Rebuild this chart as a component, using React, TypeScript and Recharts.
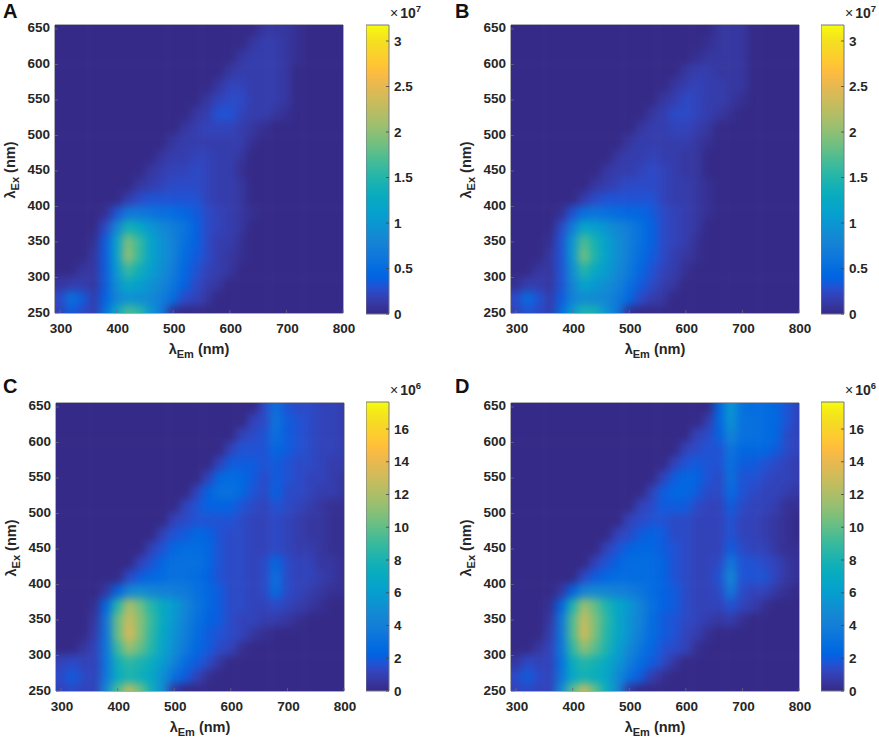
import React from "react";
import {
  ScatterChart, Scatter, XAxis, YAxis, ReferenceArea, BarChart, Bar, Label,
} from "recharts";

const emValues = [300,320,340,360,380,400,420,440,460,480,500,520,540,560,580,600,620,640,660,680,700,720,740,760,780,800];
const exValues = [650,630,610,590,570,550,530,510,490,470,450,430,410,390,370,350,330,310,290,270,250];
const emTicks = [300,400,500,600,700,800];
const exTicks = [250,300,350,400,450,500,550,600,650];
const barTicks7 = [0,0.5,1,1.5,2,2.5,3];
const barTicks6 = [0,2,4,6,8,10,12,14,16];

// Intensity in units of 1e6; rows run from ex 650 down to ex 250, trailing zeros omitted.
const panelA = [
[0,0,0,0,0,0,0,0,0,0,0,0,0,0,0,0,0,0,1,1.2,1,.3],
[0,0,0,0,0,0,0,0,0,0,0,0,0,0,0,0,0,1,1.3,1.3,1.2,.3],
[0,0,0,0,0,0,0,0,0,0,0,0,0,0,0,0,1,1.3,1.4,1.4,1.2,.3],
[0,0,0,0,0,0,0,0,0,0,0,0,0,0,0,1.2,1.5,1.5,1.4,1.4,1.2,.2],
[0,0,0,0,0,0,0,0,0,0,0,0,0,0,1.1,1.8,1.9,1.7,1.4,1.4,1.1],
[0,0,0,0,0,0,0,0,0,0,0,0,0,1.1,2,2.6,2.3,1.7,1.4,1.4,.9],
[0,0,0,0,0,0,0,0,0,0,0,0,1,1.7,3,2.8,2,1.5,1.3,1,.3],
[0,0,0,0,0,0,0,0,0,0,0,1,1.5,1.8,2,2,1.7,1.2,.3],
[0,0,0,0,0,0,0,0,0,0,1,1.4,1.6,1.6,1.6,1.5,1.3,.5],
[0,0,0,0,0,0,0,0,0,1,1.4,1.7,1.9,1.8,1.5,1.3,.9],
[0,0,0,0,0,0,0,0,1,1.4,1.8,2.2,2.3,1.9,1.5,1.3,.7],
[0,0,0,0,0,0,0,1,1.5,1.9,2.3,2.6,2.5,2,1.5,1.3,.8],
[0,0,0,0,0,0,1.6,2.5,3,3.2,3.2,3.2,2.9,2.2,1.6,1.4,1],
[0,0,0,0,.6,3,6.5,6.5,6,5.5,5,4.5,3.5,2.4,1.8,1.5,1.2,.3],
[0,0,0,.2,2.5,8,14,12.5,10,8.5,7.2,5.8,4.2,2.6,1.8,1.5,1.1],
[0,0,0,.6,3.5,11,19,16,11.5,9.5,7.5,5.5,4,2.5,1.7,1.4,.7],
[0,0,0,.8,3.5,11,20,16,11.5,9.5,7.5,5.2,3.5,2.3,1.6,1.2,.3],
[0,0,.8,1,3.5,10,16,13.5,11,9,7,4.5,3,2,1.4,.8],
[.8,1.5,1.4,1.2,3.5,9,12.5,11,9.5,8,6,3.8,2.4,1.7,1,.2],
[2.5,5.5,3.5,1.4,4,8,9.5,9,8.5,7,4.8,2.7,1.8,.8],
[2,3.5,2.5,1.4,5.5,12,17,15.5,10,6.5,.5],
];

const panelB = [
[0,0,0,0,0,0,0,0,0,0,0,0,0,0,0,0,0,0,.8,1,.9],
[0,0,0,0,0,0,0,0,0,0,0,0,0,0,0,0,0,.6,1,1.1,1,.2],
[0,0,0,0,0,0,0,0,0,0,0,0,0,0,0,0,.7,1.1,1.2,1.2,1,.2],
[0,0,0,0,0,0,0,0,0,0,0,0,0,0,0,1,1.4,1.4,1.2,1.2,1],
[0,0,0,0,0,0,0,0,0,0,0,0,0,0,1,1.6,1.8,1.7,1.3,1.2,.8],
[0,0,0,0,0,0,0,0,0,0,0,0,0,1,1.7,2.3,2.2,1.7,1.3,1.1,.3],
[0,0,0,0,0,0,0,0,0,0,0,0,.9,1.5,2.7,2.7,2,1.5,1.1,.7],
[0,0,0,0,0,0,0,0,0,0,0,.9,1.4,1.6,1.9,1.9,1.6,1.1,.2],
[0,0,0,0,0,0,0,0,0,0,.9,1.3,1.5,1.5,1.5,1.4,1.2,.5],
[0,0,0,0,0,0,0,0,0,.9,1.3,1.6,1.9,1.7,1.4,1.2,.9,.2],
[0,0,0,0,0,0,0,0,.9,1.3,1.7,2.2,2.4,1.9,1.4,1.2,.9,.2],
[0,0,0,0,0,0,0,.9,1.4,1.8,2.3,2.6,2.5,2,1.5,1.3,1,.3],
[0,0,0,0,0,0,1.5,2.3,2.9,3.1,3.1,3.1,2.9,2.2,1.6,1.4,1.1,.4],
[0,0,0,0,.6,2.8,5.5,5.8,5.5,5.2,4.7,4.3,3.5,2.5,1.9,1.5,1.2,.4],
[0,0,0,.2,2.4,7,12,11,9.5,8,7,5.6,4.2,2.7,1.9,1.5,1.1,.2],
[0,0,0,.6,3.2,10,17,14,11,9,7.3,5.4,4,2.6,1.8,1.4,.6],
[0,0,0,.8,3.2,10,18.5,14.5,11,9,7.2,5,3.5,2.3,1.7,1.2,.3],
[0,0,.8,1,3.2,9,15,12.5,10.5,8.5,6.6,4.4,3,2,1.4,.7],
[.6,1.5,1.3,1.2,3.2,8,11.5,10.2,9,7.6,5.6,3.6,2.4,1.7,.9,.2],
[2.4,5.2,3.2,1.4,3.6,7.5,9,8.5,8,6.7,4.6,2.6,1.7,.8],
[1.8,3.2,2.3,1.4,5,10.5,14.5,14,9.5,6,.5],
];

const panelC = [
[0,0,0,0,0,0,0,0,0,0,0,0,0,0,0,0,0,0,1.3,3.2,1.8,1.5,1.3,1.2,1,.8],
[0,0,0,0,0,0,0,0,0,0,0,0,0,0,0,0,0,1,1.5,3.3,2,1.6,1.4,1.2,1,.9],
[0,0,0,0,0,0,0,0,0,0,0,0,0,0,0,0,1,1.4,1.6,3.2,2.1,1.6,1.4,1.2,1,.9],
[0,0,0,0,0,0,0,0,0,0,0,0,0,0,0,1.1,1.6,1.7,1.7,2.6,1.9,1.6,1.4,1.2,1,.8],
[0,0,0,0,0,0,0,0,0,0,0,0,0,0,1.1,2,2,1.9,1.6,2.1,1.7,1.5,1.3,1.1,.9,.8],
[0,0,0,0,0,0,0,0,0,0,0,0,0,1.1,2.4,2.7,2.6,2,1.5,2.1,1.6,1.4,1.2,1.1,.9,.7],
[0,0,0,0,0,0,0,0,0,0,0,0,1,2.2,3,3,2.5,1.7,1.4,2.2,1.5,1.3,1.1,.9,.8,.5],
[0,0,0,0,0,0,0,0,0,0,0,1,1.7,2.2,2.3,2.2,1.8,1.4,1.2,1.7,1.3,1.1,.9,.7,.4,.2],
[0,0,0,0,0,0,0,0,0,0,1,1.5,1.8,1.8,1.7,1.6,1.4,1.2,1.1,1.4,1.1,.9,.7,.5,.3,.2],
[0,0,0,0,0,0,0,0,0,1,1.6,2.1,2.4,2.2,1.7,1.5,1.3,1.2,1.1,1.4,1.1,.9,.7,.5,.3,.2],
[0,0,0,0,0,0,0,0,1.1,1.7,2.4,2.8,2.9,2.4,1.8,1.5,1.3,1.1,1.1,1.5,1.1,.9,.8,.6,.4,.3],
[0,0,0,0,0,0,0,1.1,1.8,2.5,3,3.2,3,2.4,1.8,1.5,1.3,1.1,1.3,2.6,1.4,1.1,1,.7,.5,.3],
[0,0,0,0,0,0,1.3,2,2.6,2.9,3,3,2.8,2.3,1.8,1.5,1.3,1.1,1.5,3.2,1.5,1.2,1,.8,.5,.3],
[0,0,0,0,.5,2.2,4.5,5,4.5,4.2,4,3.6,3,2.4,1.9,1.5,1.3,1.1,1.3,2.8,1.3,1.1,.9,.7,.3,.2],
[0,0,0,.2,2.5,8.5,12,10.5,8.5,7,5.8,4.4,3.3,2.4,1.9,1.5,1.3,1.1,1.1,1.5,1.1,.9,.6,.3],
[0,0,0,.6,3.5,10,13,11,9,7,5.6,4.2,3,2.2,1.9,1.5,1.2,1,.9,.9,.6,.3],
[0,0,0,.8,3.5,10,13.5,11,8.8,6.8,5.4,4,2.8,2.1,1.7,1.3,1,.7,.3],
[0,0,.6,1,3.5,9,11.5,10,8.5,6.5,5,3.6,2.5,1.9,1.5,1.1,.3],
[1,1.4,1.1,1,3.4,7.5,8.8,8.2,7.2,5.8,4.2,2.9,2.1,1.5,.6],
[1.4,2.1,1.4,1,3.6,7,8,7.6,6.8,5,3.2,2,1,.2],
[1,1.4,1,1,4.8,9.5,12.5,10.5,7.5,5,.5],
];

const panelD = [
[0,0,0,0,0,0,0,0,0,0,0,0,0,0,0,0,0,0,2.6,5.6,3,2.8,2.8,2.6,1.6,1.2],
[0,0,0,0,0,0,0,0,0,0,0,0,0,0,0,0,0,.8,2.6,5.4,3.1,3,2.9,2.6,1.6,1.2],
[0,0,0,0,0,0,0,0,0,0,0,0,0,0,0,0,1,1.3,2.2,4.6,3,3,2.9,2.5,1.5,1.1],
[0,0,0,0,0,0,0,0,0,0,0,0,0,0,0,1,1.5,1.6,1.8,3.4,2.4,2.4,2.4,2,1.3,1],
[0,0,0,0,0,0,0,0,0,0,0,0,0,0,1,1.7,1.9,1.8,1.6,3,2,1.9,1.8,1.4,1.1,.9],
[0,0,0,0,0,0,0,0,0,0,0,0,0,1,2,2.5,2.3,1.8,1.4,3.2,1.8,1.6,1.4,1.2,1,.8],
[0,0,0,0,0,0,0,0,0,0,0,0,1,1.9,2.6,2.6,2.1,1.5,1.3,2.9,1.6,1.4,1.2,1,.9,.6],
[0,0,0,0,0,0,0,0,0,0,0,1,1.5,1.9,2,1.9,1.5,1.2,1.1,2,1.3,1.1,1,.8,.3,.2],
[0,0,0,0,0,0,0,0,0,0,1,1.4,1.6,1.6,1.5,1.4,1.2,1,1,1.6,1.1,1,.8,.6,.2,.1],
[0,0,0,0,0,0,0,0,0,1,1.5,2,2.2,1.9,1.5,1.3,1.1,1,1,1.7,1.1,1,.8,.6,.2,.1],
[0,0,0,0,0,0,0,0,1,1.6,2.2,2.6,2.6,2.1,1.6,1.3,1.1,1,1,2,1.3,1.2,1,.7,.3,.2],
[0,0,0,0,0,0,0,1.1,1.7,2.3,2.7,2.9,2.7,2.2,1.6,1.3,1.1,1,1.4,3.6,1.6,1.6,1.5,1,.5,.3],
[0,0,0,0,0,0,1.3,1.9,2.5,2.8,2.9,2.9,2.7,2.2,1.7,1.4,1.2,1,1.8,4.8,1.8,1.7,1.6,1.1,.6,.2],
[0,0,0,0,.5,2.2,4.4,4.8,4.4,4.1,3.9,3.5,2.9,2.3,1.9,1.5,1.2,1,1.5,3.6,1.4,1.2,1,.6,.2],
[0,0,0,.2,2.3,8,11.5,10,8.2,6.8,5.6,4.3,3.2,2.3,1.9,1.4,1.2,1,1,1.8,1,.8,.4],
[0,0,0,.6,3.3,9.5,12.8,10.6,8.8,6.8,5.4,4.1,2.9,2.1,1.8,1.4,1.1,.9,.7,.9,.4],
[0,0,0,.8,3.3,9.5,13.2,10.6,8.5,6.6,5.2,3.9,2.7,2,1.6,1.2,.9,.4],
[0,0,.5,1,3.3,8.6,11.2,9.7,8.2,6.3,4.8,3.4,2.4,1.8,1.4,1,.3],
[.7,1.3,1,1,3.2,7.2,8.5,7.9,7,5.6,4,2.8,2,1.4,.6],
[1.3,1.9,1.3,1,3.4,6.8,7.8,7.4,6.6,4.8,3.1,1.9,.9,.2],
[1,1.3,1,1,4.8,9.8,12.8,10.2,7.3,4.8,.5],
];

const parula = [
[53,42,135],[54,48,147],[54,55,160],[53,61,173],[50,67,186],[44,74,199],[32,83,212],[15,92,221],[3,99,225],[2,104,225],[4,109,224],[8,113,222],[13,117,220],[16,121,218],[18,125,216],[20,129,214],[20,133,212],[19,137,211],[16,142,210],[12,147,210],[9,152,209],[7,156,207],[6,160,205],[6,164,202],[6,167,198],[7,169,194],[10,172,190],[15,174,185],[21,177,180],[29,179,175],[37,181,169],[46,183,164],[56,185,158],[66,187,152],[77,188,146],[89,189,140],[101,190,134],[113,191,128],[124,191,123],[135,191,119],[146,191,115],[156,191,111],[165,190,107],[174,190,103],[183,189,100],[192,188,96],[200,188,93],[209,187,89],[217,186,86],[225,185,82],[233,185,78],[241,185,74],[248,187,68],[253,190,61],[255,195,55],[254,200,50],[252,206,46],[250,211,42],[247,216,38],[245,222,33],[245,228,29],[245,235,24],[246,243,19],[249,251,14],
];

const FONT = "'Liberation Sans', Arial, sans-serif";
const INK = "#262626";
const FRAME = "#5b5b6b";
const PLOT = 288;
const EM_DOMAIN: [number, number] = [291, 800];
const EX_DOMAIN: [number, number] = [250, 655.6];
const BLEED = 14;

function colourOf(v: number, max: number) {
  const t = Math.max(0, Math.min(1, v / max));
  const c = parula[Math.round(t * (parula.length - 1))];
  return `rgb(${c[0]},${c[1]},${c[2]})`;
}

function cellsOf(rows: number[][]) {
  const out: { em: number; ex: number; v: number }[] = [];
  exValues.forEach((ex, i) => {
    emValues.forEach((em, j) => {
      out.push({ em, ex, v: rows[i][j] ?? 0 });
    });
  });
  return out;
}

const cellW = (PLOT / (EM_DOMAIN[1] - EM_DOMAIN[0])) * 20;
const cellH = (PLOT / (EX_DOMAIN[1] - EX_DOMAIN[0])) * 20;

function CellShape(props: any) {
  const { cx, cy, payload, colourMax } = props;
  const { em, ex, v } = payload;
  const left = em === emValues[0] ? BLEED : 0;
  const right = em === emValues[emValues.length - 1] ? BLEED : 0;
  const top = ex === exValues[0] ? BLEED : 0;
  const bottom = ex === exValues[exValues.length - 1] ? BLEED : 0;
  return (
    <rect
      x={cx - cellW / 2 - left - 0.3}
      y={cy - cellH / 2 - top - 0.3}
      width={cellW + left + right + 0.6}
      height={cellH + top + bottom + 0.6}
      fill={colourOf(v, colourMax)}
    />
  );
}

function XTick({ x, payload }: any) {
  return (
    <g>
      <line x1={x} x2={x} y1={313} y2={310} stroke="#6a6a80" strokeWidth={0.8} />
      <text x={x + 1} y={333} textAnchor="middle" fontFamily={FONT} fontSize={13.5} fontWeight={700} fill={INK}>
        {payload.value}
      </text>
    </g>
  );
}

function YTick({ y, payload }: any) {
  return (
    <g>
      <line x1={55} x2={58} y1={y} y2={y} stroke="#6a6a80" strokeWidth={0.8} />
      <text x={50} y={y + 3.5} textAnchor="end" fontFamily={FONT} fontSize={13.5} fontWeight={700} fill={INK}>
        {payload.value}
      </text>
    </g>
  );
}

function EmLabel() {
  return (
    <text x={199} y={354} textAnchor="middle" fontFamily={FONT} fontSize={14.5} fontWeight={700} fill={INK}>
      λ<tspan fontSize={11} dy={4}>Em</tspan><tspan dy={-4}> (nm)</tspan>
    </text>
  );
}

function ExLabel() {
  return (
    <text transform="translate(15,170) rotate(-90)" textAnchor="middle" fontFamily={FONT} fontSize={14.5} fontWeight={700} fill={INK}>
      λ<tspan fontSize={11} dy={4}>Ex</tspan><tspan dy={-4}> (nm)</tspan>
    </text>
  );
}

function Heatmap({ left, top, rows, colourMax }: { left: number; top: number; rows: number[][]; colourMax: number }) {
  const cells = cellsOf(rows);
  return (
    <div className="heat" style={{ position: "absolute", left, top }}>
      <ScatterChart width={360} height={368} margin={{ top: 25, right: 17, bottom: 0, left: 0 }}>
        <XAxis type="number" dataKey="em" domain={EM_DOMAIN} ticks={emTicks} height={55} interval={0}
          tick={<XTick />} tickLine={false} axisLine={false} tickSize={0}>
          <Label content={<EmLabel />} />
        </XAxis>
        <YAxis type="number" dataKey="ex" domain={EX_DOMAIN} ticks={exTicks} width={55} interval={0}
          tick={<YTick />} tickLine={false} axisLine={false} tickSize={0}>
          <Label content={<ExLabel />} />
        </YAxis>
        <Scatter data={cells} isAnimationActive={false}
          shape={(p: any) => <CellShape {...p} colourMax={colourMax} />} />
        <ReferenceArea x1={EM_DOMAIN[0]} x2={EM_DOMAIN[1]} y1={EX_DOMAIN[0]} y2={EX_DOMAIN[1]}
          fill="none" stroke={FRAME} strokeWidth={1} fillOpacity={0} />
      </ScatterChart>
    </div>
  );
}

function BarTick({ y, payload }: any) {
  return (
    <g>
      <line x1={20} x2={23} y1={y} y2={y} stroke="#444" strokeWidth={0.8} />
      <text x={28} y={y + 4.5} fontFamily={FONT} fontSize={13.5} fontWeight={700} fill={INK}>
        {payload.value}
      </text>
    </g>
  );
}

function Exponent({ power }: { power: number }) {
  return (
    <text x={24} y={18} fontFamily={FONT} fontSize={14} fill={INK}>
      <tspan fontWeight={400}>×</tspan>
      <tspan fontWeight={700} dx={2}>10</tspan>
      <tspan fontWeight={700} fontSize={9.5} dy={-6}>{power}</tspan>
    </text>
  );
}

function ColourBar({ left, top, max, ticks, power }: { left: number; top: number; max: number; ticks: number[]; power: number }) {
  const data = [{ name: "scale", v: max }];
  return (
    <div style={{ position: "absolute", left, top }}>
      <BarChart width={63} height={324} data={data} barCategoryGap={0}
        margin={{ top: 25, right: 0, bottom: 10, left: 0 }}>
        <XAxis dataKey="name" hide />
        <YAxis orientation="right" type="number" domain={[0, max]} ticks={ticks} width={40} interval={0}
          tick={<BarTick />} tickLine={false} axisLine={false} tickSize={0}>
          <Label content={<Exponent power={power} />} />
        </YAxis>
        <Bar dataKey="v" fill="url(#parulaRamp)" stroke="#77778a" strokeWidth={1} isAnimationActive={false} />
      </BarChart>
    </div>
  );
}

function Letter({ left, top, text }: { left: number; top: number; text: string }) {
  return (
    <div style={{ position: "absolute", left, top, fontFamily: FONT, fontWeight: 700, fontSize: 20, lineHeight: "20px", color: "#111" }}>
      {text}
    </div>
  );
}

export default function App() {
  return (
    <div style={{ position: "absolute", left: 0, top: 0, width: 879, height: 741, background: "#fff", overflow: "hidden" }}>
      <style>{`.heat .recharts-scatter{filter:blur(4.2px);clip-path:url(#plotClip);}`}</style>
      <svg width={0} height={0} style={{ position: "absolute" }}>
        <defs>
          <clipPath id="plotClip" clipPathUnits="userSpaceOnUse">
            <rect x={55} y={25} width={PLOT} height={PLOT} />
          </clipPath>
          <linearGradient id="parulaRamp" x1="0" y1="1" x2="0" y2="0">
            {parula.map((c, i) => (
              <stop key={i} offset={i / (parula.length - 1)} stopColor={`rgb(${c[0]},${c[1]},${c[2]})`} />
            ))}
          </linearGradient>
        </defs>
      </svg>
      <Heatmap left={0} top={0} rows={panelA} colourMax={31.76} />
      <Heatmap left={456} top={0} rows={panelB} colourMax={31.76} />
      <Heatmap left={1} top={378} rows={panelC} colourMax={17.65} />
      <Heatmap left={456} top={378} rows={panelD} colourMax={17.65} />
      <ColourBar left={366} top={0} max={3.176} ticks={barTicks7} power={7} />
      <ColourBar left={821} top={0} max={3.176} ticks={barTicks7} power={7} />
      <ColourBar left={366} top={377} max={17.65} ticks={barTicks6} power={6} />
      <ColourBar left={821} top={377} max={17.65} ticks={barTicks6} power={6} />
      <Letter left={3} top={1} text="A" />
      <Letter left={455} top={1} text="B" />
      <Letter left={3} top={376} text="C" />
      <Letter left={455} top={376} text="D" />
    </div>
  );
}
